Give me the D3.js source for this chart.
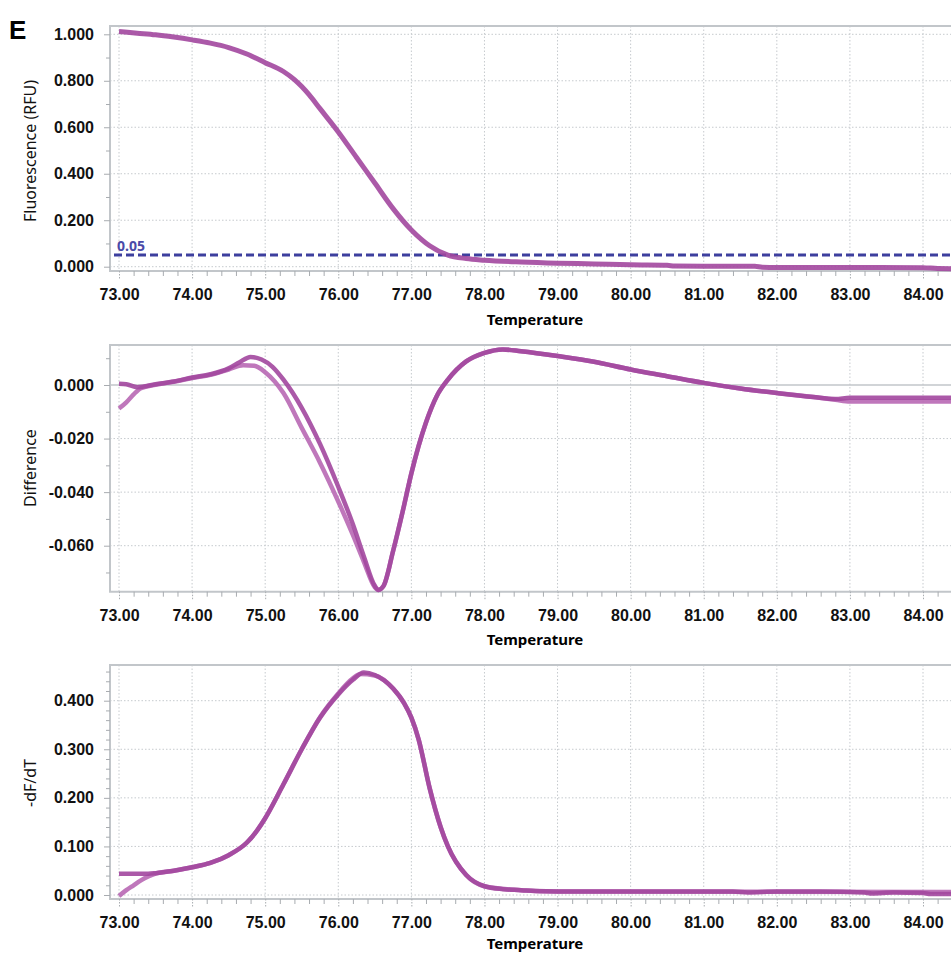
<!DOCTYPE html>
<html lang="en">
<head>
<meta charset="UTF-8">
<title>Melt curve - E</title>
<script src="https://d3js.org/d3.v7.min.js"></script>
<style>
    body { margin: 0; background: #fff; }
    svg { display: block; font-family: "Noto Sans", "DejaVu Sans", sans-serif; }
    .tick text { font-weight: bold; font-size: 16px; fill: #111; }
    .domain { display: none; }
</style>
</head>
<body>
<div id="chart"></div>
<script>
    // ---- data ----
    const xMajor = [73, 74, 75, 76, 77, 78, 79, 80, 81, 82, 83, 84];

    const fluor = [
        [73.0, 1.012], [73.25, 1.005], [73.5, 0.998], [73.75, 0.988], [74.0, 0.976],
        [74.25, 0.962], [74.5, 0.943], [74.75, 0.915], [75.0, 0.878], [75.25, 0.84],
        [75.4, 0.805], [75.5, 0.775], [75.6, 0.74], [75.75, 0.68], [76.0, 0.58],
        [76.25, 0.47], [76.5, 0.36], [76.75, 0.25], [77.0, 0.158], [77.25, 0.09],
        [77.5, 0.05], [77.75, 0.035], [78.0, 0.028], [78.5, 0.02], [79.0, 0.015],
        [79.5, 0.012], [80.0, 0.008], [80.5, 0.006], [80.6, 0.003], [81.0, 0.002],
        [81.7, 0.002], [81.8, -0.002], [82.0, -0.003], [83.0, -0.003], [84.0, -0.004],
        [84.2, -0.008], [84.5, -0.009]
    ];
    const threshold = 0.05;

    const diffA = [
        [73.0, 0.0005], [73.1, 0.0003], [73.25, -0.0008], [73.5, 0.0003], [73.75, 0.0013],
        [74.0, 0.0028], [74.25, 0.004], [74.5, 0.0062], [74.65, 0.0085], [74.8, 0.0105],
        [74.95, 0.0095], [75.1, 0.0068], [75.25, 0.002], [75.5, -0.0085], [75.75, -0.022],
        [76.0, -0.038], [76.2, -0.052], [76.35, -0.064], [76.5, -0.075], [76.55, -0.0765],
        [76.62, -0.075], [76.75, -0.062], [76.9, -0.045], [77.0, -0.033], [77.2, -0.014],
        [77.35, -0.004], [77.5, 0.002], [77.75, 0.0088], [78.0, 0.012], [78.25, 0.0133],
        [78.5, 0.0126], [79.0, 0.0108], [79.5, 0.0087], [80.0, 0.0058], [80.5, 0.0033],
        [81.0, 0.0008], [81.5, -0.0013], [82.0, -0.003], [82.5, -0.0045], [82.8, -0.0052],
        [83.0, -0.0048], [84.5, -0.0048]
    ];
    const diffB = [
        [73.0, -0.0088], [73.1, -0.0065], [73.2, -0.0035], [73.3, -0.0012], [73.5, 0.0001],
        [73.75, 0.0012], [74.0, 0.0026], [74.25, 0.0038], [74.5, 0.0058], [74.7, 0.0074],
        [74.85, 0.0072], [75.0, 0.0048], [75.25, -0.003], [75.5, -0.016], [75.75, -0.029],
        [76.0, -0.0435], [76.2, -0.056], [76.35, -0.066], [76.5, -0.0755], [76.55, -0.0765],
        [76.62, -0.075], [76.75, -0.062], [76.9, -0.045], [77.0, -0.033], [77.2, -0.014],
        [77.35, -0.004], [77.5, 0.002], [77.75, 0.0088], [78.0, 0.012], [78.25, 0.0133],
        [78.5, 0.0126], [79.0, 0.0108], [79.5, 0.0087], [80.0, 0.0058], [80.5, 0.0033],
        [81.0, 0.0008], [81.5, -0.0013], [82.0, -0.003], [82.5, -0.0045], [82.8, -0.0055],
        [83.0, -0.0062], [84.5, -0.0062]
    ];

    const derivA = [
        [73.0, 0.044], [73.2, 0.044], [73.4, 0.044], [73.5, 0.045], [73.75, 0.05],
        [74.0, 0.057], [74.25, 0.066], [74.5, 0.082], [74.75, 0.108], [74.9, 0.135],
        [75.0, 0.158], [75.25, 0.228], [75.5, 0.30], [75.75, 0.365], [76.0, 0.413],
        [76.2, 0.443], [76.35, 0.458], [76.5, 0.453], [76.75, 0.425], [76.9, 0.395],
        [77.0, 0.365], [77.1, 0.32], [77.25, 0.22], [77.4, 0.14], [77.5, 0.10],
        [77.75, 0.041], [78.0, 0.018], [78.25, 0.012], [78.5, 0.010], [78.7, 0.008],
        [79.0, 0.007], [80.0, 0.007], [81.0, 0.007], [81.4, 0.007], [81.6, 0.005],
        [82.0, 0.007], [82.6, 0.007], [83.2, 0.005], [83.3, 0.003], [83.6, 0.005],
        [84.0, 0.004], [84.1, 0.002], [84.5, 0.002]
    ];
    const derivB = [
        [73.0, -0.002], [73.1, 0.01], [73.2, 0.02], [73.3, 0.03], [73.4, 0.038],
        [73.5, 0.044], [73.75, 0.05], [74.0, 0.057], [74.25, 0.066], [74.5, 0.082],
        [74.75, 0.108], [74.9, 0.135], [75.0, 0.158], [75.25, 0.228], [75.5, 0.30],
        [75.75, 0.366], [76.0, 0.415], [76.2, 0.446], [76.3, 0.455], [76.5, 0.452],
        [76.75, 0.425], [76.9, 0.395], [77.0, 0.365], [77.1, 0.32], [77.25, 0.22],
        [77.4, 0.14], [77.5, 0.10], [77.75, 0.041], [78.0, 0.018], [78.5, 0.010],
        [79.0, 0.007], [84.5, 0.006]
    ];

    // ---- layout ----
    const W = 951, H = 955;
    const plotLeft = 110, plotRight = 960;
    const lineColor = "#a2479e", lineColor2 = "#b868b4";
    const gridColor = "#c6cace", boxColor = "#c2c6ca";

    const svg = d3.select("#chart").append("svg")
        .attr("width", W).attr("height", H);

    const x = d3.scaleLinear().domain([73, 84]).range([119, 923]);

    // hyphen instead of unicode minus, as in the instrument software
    const fmt3 = v => d3.format(".3f")(v).replace("\u2212", "-");
    const fmt2 = v => d3.format(".2f")(v);

    const panels = [
        {
            top: 26, bottom: 271, y: d3.scaleLinear().domain([0, 1]).range([266.7, 34.3]),
            major: [0, 0.2, 0.4, 0.6, 0.8, 1.0], minor: [0.1, 0.3, 0.5, 0.7, 0.9],
            title: "Fluorescence (RFU)", titleY: 151, zeroSolid: false, xTitleY: 325,
            traces: [{ data: fluor, color: lineColor, w: 5 }]
        },
        {
            top: 345, bottom: 591.7, y: d3.scaleLinear().domain([0, -0.06]).range([385, 545.7]),
            major: [0, -0.02, -0.04, -0.06], minor: [0.01, -0.01, -0.03, -0.05, -0.07],
            title: "Difference", titleY: 468, zeroSolid: true, xTitleY: 645,
            traces: [{ data: diffB, color: lineColor2, w: 4.5 }, { data: diffA, color: lineColor, w: 4.5 }]
        },
        {
            top: 665, bottom: 899, y: d3.scaleLinear().domain([0, 0.4]).range([895, 700.7]),
            major: [0, 0.1, 0.2, 0.3, 0.4],
            minor: d3.range(0.02, 0.47, 0.02).filter(v => Math.abs(v * 10 - Math.round(v * 10)) > 1e-6),
            title: "-dF/dT", titleY: 783, zeroSolid: false, xTitleY: 949,
            traces: [{ data: derivB, color: lineColor2, w: 4.5 }, { data: derivA, color: lineColor, w: 4.5 }]
        }
    ];

    const xMinor = d3.range(73, 84.5, 0.2).filter(v => Math.abs(v - Math.round(v)) > 1e-6);

    panels.forEach((p, i) => {
        const g = svg.append("g");
        const y = p.y;

        // grid
        g.selectAll(".vgrid").data(xMajor).enter().append("line")
            .attr("x1", d => x(d)).attr("x2", d => x(d))
            .attr("y1", p.top).attr("y2", p.bottom)
            .attr("stroke", gridColor).attr("stroke-dasharray", "1.5,2");
        g.selectAll(".hgrid").data(p.major).enter().append("line")
            .attr("x1", plotLeft).attr("x2", plotRight)
            .attr("y1", d => y(d)).attr("y2", d => y(d))
            .attr("stroke", d => (d === 0 && p.zeroSolid) ? boxColor : gridColor)
            .attr("stroke-width", d => (d === 0 && p.zeroSolid) ? 1.5 : 1)
            .attr("stroke-dasharray", d => (d === 0 && p.zeroSolid) ? null : "1.5,2");

        // plot box (left, top, bottom)
        g.append("path")
            .attr("d", `M${plotRight},${p.top}H${plotLeft}V${p.bottom}H${plotRight}`)
            .attr("fill", "none").attr("stroke", boxColor).attr("stroke-width", 2);

        // y axis
        g.append("g").attr("transform", `translate(${plotLeft},0)`)
            .call(d3.axisLeft(y).tickValues(p.minor).tickSize(4).tickFormat(""))
            .selectAll("line").attr("stroke", "#a8acb0");
        g.append("g").attr("transform", `translate(${plotLeft},0)`)
            .call(d3.axisLeft(y).tickValues(p.major).tickSize(6).tickPadding(10).tickFormat(fmt3))
            .call(a => a.selectAll("line").attr("stroke", "#a8acb0"));

        // x axis
        g.append("g").attr("transform", `translate(0,${p.bottom})`)
            .call(d3.axisBottom(x).tickValues(xMinor).tickSize(5).tickFormat(""))
            .selectAll("line").attr("stroke", "#a8acb0");
        g.append("g").attr("transform", `translate(0,${p.bottom})`)
            .call(d3.axisBottom(x).tickValues(xMajor).tickSize(8).tickPadding(10).tickFormat(fmt2))
            .call(a => a.selectAll("line").attr("stroke", "#a8acb0").attr("stroke-dasharray", "1.5,1.5"));

        g.append("text")
            .attr("x", 535).attr("y", p.xTitleY)
            .attr("text-anchor", "middle")
            .style("font-weight", "bold").style("font-size", "15px")
            .text("Temperature");

        g.append("text")
            .attr("transform", `translate(30,${p.titleY}) rotate(-90)`)
            .attr("text-anchor", "middle").attr("dominant-baseline", "central")
            .style("font-size", "16px").style("fill", "#111")
            .text(p.title);

        // threshold line on the first panel
        if (i === 0) {
            g.append("line")
                .attr("x1", 114).attr("x2", plotRight)
                .attr("y1", y(threshold)).attr("y2", y(threshold))
                .attr("stroke", "#3d3f9e").attr("stroke-width", 3)
                .attr("stroke-dasharray", "8,4");
            g.append("text")
                .attr("x", 117).attr("y", y(threshold) - 4)
                .style("font-weight", "bold").style("font-size", "14px")
                .style("fill", "#4a4aa8")
                .text("0.05");
        }

        const line = d3.line()
            .x(d => x(d[0])).y(d => y(d[1]))
            .curve(d3.curveMonotoneX);

        p.traces.forEach(t => {
            g.append("path")
                .datum(t.data)
                .attr("d", line)
                .attr("fill", "none")
                .attr("stroke", t.color)
                .attr("stroke-width", t.w)
                .attr("stroke-opacity", 0.9)
                .attr("stroke-linejoin", "round");
        });
    });

    // panel letter
    svg.append("text")
        .attr("x", 9).attr("y", 39)
        .style("font-weight", "bold").style("font-size", "26px")
        .style("font-family", "'Liberation Sans', sans-serif")
        .text("E");
</script>
</body>
</html>
